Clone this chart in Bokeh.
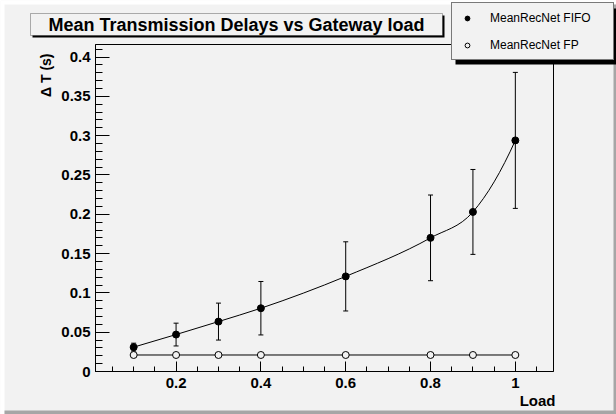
import numpy as np
from bokeh.plotting import figure
from bokeh.models import (Range1d, FixedTicker, ColumnDataSource, Whisker, TeeHead,
                          Legend, LegendItem, BoxAnnotation, Label)
from bokeh.embed import file_html
from bokeh.resources import INLINE

# ---------------- data ----------------
LOAD = [0.1, 0.2, 0.3, 0.4, 0.6, 0.8, 0.9, 1.0]
FIFO_MEAN = [0.031, 0.047, 0.0635, 0.0805, 0.121, 0.170, 0.203, 0.294]
FIFO_ERR = [0.005, 0.0145, 0.0235, 0.034, 0.044, 0.0545, 0.054, 0.0865]
FP_MEAN = [0.021, 0.021, 0.021, 0.021, 0.021, 0.021, 0.021, 0.021]

X_TICKS = [0.2, 0.4, 0.6, 0.8, 1.0]
X_TICK_LABELS = ["0.2", "0.4", "0.6", "0.8", "1"]
X_MINOR = [0.05, 0.1, 0.15, 0.2, 0.25, 0.3, 0.35, 0.4, 0.45, 0.5, 0.55, 0.6,
           0.65, 0.7, 0.75, 0.8, 0.85, 0.9, 0.95, 1.0, 1.05]
Y_TICKS = [0.0, 0.05, 0.1, 0.15, 0.2, 0.25, 0.3, 0.35, 0.4]
Y_TICK_LABELS = ["0", "0.05", "0.1", "0.15", "0.2", "0.25", "0.3", "0.35", "0.4"]
Y_MINOR = [round(0.01 * i, 2) for i in range(0, 42)]

TITLE = "Mean Transmission Delays vs Gateway load"
X_TITLE = "Load"
Y_TITLE = "\u0394 T (s)"
SERIES = ["MeanRecNet FIFO", "MeanRecNet FP"]

XMIN, XMAX = 0.01, 1.09
YMIN, YMAX = 0.0, 0.416

BG = "#f2f2f2"
FONT = "Liberation Sans"
W, H = 616, 414
FX0, FX1, FY0, FY1 = 95, 553, 44, 371   # frame edges in canvas pixels

POS = {"position": "absolute", "left": "0px", "top": "0px"}

# ---------------- main figure ----------------
p = figure(width=W, height=H, output_backend="svg", toolbar_location=None,
           x_range=Range1d(XMIN, XMAX), y_range=Range1d(YMIN, YMAX),
           min_border_left=FX0, min_border_right=W - FX1, min_border_top=FY0,
           min_border_bottom=H - FY1)
p.styles = POS
p.background_fill_color = BG
p.border_fill_color = BG
p.outline_line_color = "black"
p.outline_line_width = 1
p.xgrid.visible = False
p.ygrid.visible = False

for ax, ticks, labels, minor, tin, tmin in (
        (p.xaxis[0], X_TICKS, X_TICK_LABELS, X_MINOR, 10, 5),
        (p.yaxis[0], Y_TICKS, Y_TICK_LABELS, Y_MINOR, 14, 7)):
    ax.ticker = FixedTicker(ticks=ticks, minor_ticks=minor)
    ax.major_label_overrides = {t: l for t, l in zip(ticks, labels)}
    ax.major_tick_in = tin
    ax.major_tick_out = 0
    ax.minor_tick_in = tmin
    ax.minor_tick_out = 0
    ax.axis_line_color = "black"
    ax.major_tick_line_color = "black"
    ax.minor_tick_line_color = "black"
    ax.major_label_text_font = FONT
    ax.major_label_text_font_style = "bold"
    ax.major_label_text_font_size = "15px"
    ax.major_label_text_color = "black"
p.xaxis.major_label_standoff = 6
p.yaxis.major_label_standoff = 5

x = np.array(LOAD)
y = np.array(FIFO_MEAN)
e = np.array(FIFO_ERR)
src = ColumnDataSource(dict(x=x, y=y, lo=y - e, hi=y + e))

p.add_layout(Whisker(source=src, base="x", lower="lo", upper="hi",
                     line_color="black", line_width=1,
                     lower_head=TeeHead(size=5, line_color="black", line_width=1),
                     upper_head=TeeHead(size=5, line_color="black", line_width=1)))

# smooth curve through the FIFO points (cubic Hermite drawn as Bezier segments)
h = np.diff(x)
s = np.diff(y) / h
d = np.empty_like(y)
d[1:-1] = (h[:-1] * s[1:] + h[1:] * s[:-1]) / (h[:-1] + h[1:])
d[0] = 2 * s[0] - d[1]
d[-1] = 2 * s[-1] - d[-2]
p.bezier(x0=x[:-1], y0=y[:-1], x1=x[1:], y1=y[1:],
         cx0=x[:-1] + h / 3, cy0=y[:-1] + d[:-1] * h / 3,
         cx1=x[1:] - h / 3, cy1=y[1:] - d[1:] * h / 3,
         line_color="black", line_width=1)

p.line(LOAD, FP_MEAN, line_color="black", line_width=1)
p.scatter(LOAD, FIFO_MEAN, marker="circle", size=7, fill_color="black",
          line_color="black")
p.scatter(LOAD, FP_MEAN, marker="circle", size=7, fill_color=BG,
          line_color="black", line_width=1)

# ---------------- overlay figure (title box, legend, axis titles, bevel) ----------------
q = figure(width=W, height=H, output_backend="svg", toolbar_location=None,
           x_range=Range1d(0, W), y_range=Range1d(H, 0),
           x_axis_location=None, y_axis_location=None,
           min_border=0, min_border_left=0, min_border_right=0,
           min_border_top=0, min_border_bottom=0)
q.styles = POS
q.background_fill_alpha = 0
q.border_fill_alpha = 0
q.outline_line_color = None
q.xgrid.visible = False
q.ygrid.visible = False


def box(l, r, t, b, **kw):
    q.add_layout(BoxAnnotation(left=l, right=r, top=t, bottom=b, **kw))


# canvas bevel
box(0, W, 0, 4, fill_color="white", fill_alpha=1, line_alpha=0)
box(0, 4, 0, H, fill_color="white", fill_alpha=1, line_alpha=0)
box(613, W, 4, H, fill_color="#a6a6a6", fill_alpha=1, line_alpha=0)
box(4, W, 410, H, fill_color="#a6a6a6", fill_alpha=1, line_alpha=0)

# title box with shadow
box(32, 444, 15, 37, fill_color="black", fill_alpha=1, line_alpha=0)
box(30, 442, 13, 35, fill_color=BG, fill_alpha=1, line_color="black", line_width=1)
q.add_layout(Label(x=236, y=24.5, text=TITLE, text_align="center",
                   text_baseline="middle", text_font=FONT, text_font_style="bold",
                   text_font_size="18px", text_color="black"))

# axis titles
q.add_layout(Label(x=555, y=400, text=X_TITLE, text_align="right",
                   text_baseline="middle", text_font=FONT, text_font_style="bold",
                   text_font_size="15px", text_color="black"))
q.add_layout(Label(x=45, y=53, text=Y_TITLE, angle=np.pi / 2,
                   text_align="right", text_baseline="middle", text_font=FONT,
                   text_font_style="bold", text_font_size="14px", text_color="black"))

# legend with shadow; glyph proxies hold one point placed off the canvas
box(455, W, 8, 64, fill_color="black", fill_alpha=1, line_alpha=0)
proxy = ColumnDataSource(dict(x=[-50], y=[-50]))
g1 = q.scatter("x", "y", source=proxy, marker="circle", size=7,
               fill_color="black", line_color="black")
g2 = q.scatter("x", "y", source=proxy, marker="circle", size=7,
               fill_color=BG, line_color="black")
legend = Legend(items=[LegendItem(label=SERIES[0], renderers=[g1]),
                       LegendItem(label=SERIES[1], renderers=[g2])],
                location=(451, H - 60), orientation="vertical",
                padding=7, spacing=12, margin=0, glyph_width=16, glyph_height=12,
                label_standoff=15, label_width=116, label_height=15,
                background_fill_color=BG, background_fill_alpha=1,
                border_line_color="black", border_line_width=1,
                label_text_font=FONT, label_text_font_size="12px",
                label_text_color="black")
q.add_layout(legend, "center")

open("out.html", "w").write(file_html([p, q], INLINE))
